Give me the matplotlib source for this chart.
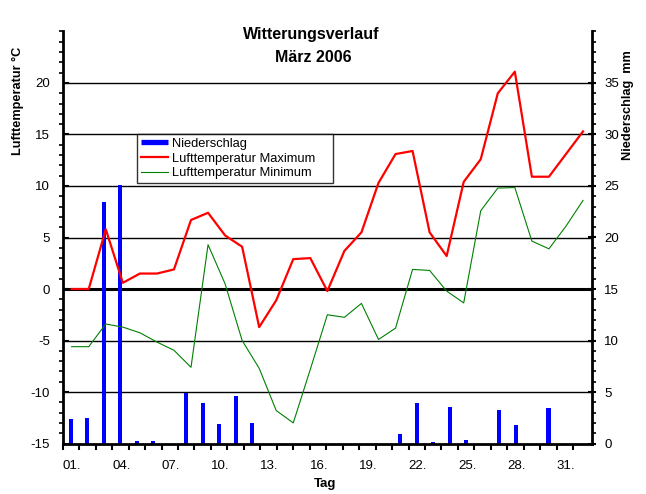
import numpy as np
import matplotlib
matplotlib.use("Agg")
import matplotlib.pyplot as plt
from matplotlib.lines import Line2D

plt.rcParams['font.family'] = ['Liberation Sans', 'DejaVu Sans']
plt.rcParams['axes.unicode_minus'] = False

# daily values, March 2006
days = np.arange(1, 32)
t_max = [0.0, 0.0, 5.8, 0.6, 1.5, 1.5, 1.9, 6.7, 7.4, 5.2, 4.1, -3.7, -1.1, 2.9, 3.0, -0.2,
         3.7, 5.5, 10.3, 13.1, 13.4, 5.5, 3.2, 10.4, 12.6, 19.0, 21.1, 10.9, 10.9, 13.1, 15.3]
t_min = [-5.6, -5.6, -3.4, -3.7, -4.25, -5.15, -5.95, -7.6, 4.3, 0.5, -5.0, -7.7, -11.8, -13.0,
         -7.8, -2.5, -2.75, -1.4, -4.9, -3.8, 1.9, 1.8, -0.2, -1.35, 7.6, 9.8, 9.85, 4.65,
         3.9, 6.1, 8.6]
precip = [2.4, 2.5, 23.4, 25.1, 0.2, 0.2, 0.0, 4.9, 3.9, 1.9, 4.65, 2.0, 0, 0, 0, 0, 0, 0, 0, 0,
          0.9, 3.9, 0.1, 3.5, 0.3, 0.0, 3.3, 1.75, 0.0, 3.4, 0.0]
tick_days = list(range(1, 32, 3))

W, H = 646, 494
fig = plt.figure(figsize=(W / 100, H / 100), dpi=100)
rect = [62.7 / W, 1 - 443.5 / H, 529 / W, 412 / H]

# bottom layer: temperature axis with the grid
ax_t = fig.add_axes(rect)
ax_t.set_ylim(-15, 25)
ax_t.set_xlim(0, 1)
ax_t.set_xticks([])
ax_t.set_yticks(range(-15, 21, 5))
ax_t.set_yticks(range(-15, 26), minor=True)
for v in range(-10, 25, 5):
    ax_t.axhline(v, color='black', lw=2.2 if v == 0 else 1.0, zorder=0)
ax_t.tick_params(axis='y', which='major', direction='in', length=4, width=1.5, pad=9, labelsize=9.5)
ax_t.tick_params(axis='y', which='minor', direction='out', length=3, width=1.2)
for s in ['top', 'right', 'bottom']:
    ax_t.spines[s].set_visible(False)
ax_t.spines['left'].set_linewidth(2)

# middle layer: precipitation bars and the day axis
ax_b = fig.add_axes(rect)
ax_b.patch.set_visible(False)
ax_b.bar(days, precip, width=0.25, color='#0000ff', zorder=2)
ax_b.set_xlim(0.5, 32.62)
ax_b.set_ylim(0, 40)
ax_b.yaxis.tick_right()
ax_b.set_yticks(range(0, 36, 5))
ax_b.set_yticks(range(0, 41), minor=True)
ax_b.set_xticks(np.arange(0.5, 32, 1))
ax_b.set_xticklabels(['%02d.' % (i + 1) if (i + 1) in tick_days else '' for i in range(32)])
plt.setp(ax_b.get_xticklabels(), ha='left')
ax_b.tick_params(axis='x', direction='out', length=4, width=1.5, pad=8, labelsize=9.5)
ax_b.tick_params(axis='y', which='major', direction='inout', length=6, width=1.5, pad=6, labelsize=9.5)
ax_b.tick_params(axis='y', which='minor', direction='out', length=3, width=1.2)
for s in ['top', 'left']:
    ax_b.spines[s].set_visible(False)
ax_b.spines['right'].set_linewidth(2)
ax_b.spines['bottom'].set_linewidth(2)

# top layer: temperature lines
ax_l = fig.add_axes(rect)
ax_l.patch.set_visible(False)
ax_l.axis('off')
ax_l.set_xlim(0.472, 31.51)
ax_l.set_ylim(-15, 25)
ax_l.plot(days, t_max, color='#ff0000', lw=1.6)
ax_l.plot(days, t_min, color='#008000', lw=0.8)

handles = [Line2D([], [], color='#0000ff', lw=3.8, solid_capstyle='butt'),
           Line2D([], [], color='#ff0000', lw=1.6),
           Line2D([], [], color='#008000', lw=0.8)]
labels = ['Niederschlag', 'Lufttemperatur Maximum', 'Lufttemperatur Minimum']
leg = ax_l.legend(handles, labels, loc='upper left', mode='expand',
                  bbox_to_anchor=(136.7 / W, 1 - 185 / H, 196.3 / W, 51 / H),
                  bbox_transform=fig.transFigure, fontsize=9.3, frameon=True, fancybox=False,
                  borderpad=0.3, labelspacing=0.2, handlelength=2.1, handletextpad=0.3,
                  borderaxespad=0)
leg.get_frame().set_edgecolor('black')
leg.get_frame().set_linewidth(1.0)

fig.text(311 / W, 1 - 34 / H, 'Witterungsverlauf', ha='center', va='center', fontsize=11.5, fontweight='bold')
fig.text(313 / W, 1 - 57 / H, 'März 2006', ha='center', va='center', fontsize=11.5, fontweight='bold')
fig.text(18 / W, 1 - 101 / H, 'Lufttemperatur °C', rotation=90, ha='center', va='center', fontsize=9.2, fontweight='bold')
fig.text(628 / W, 1 - 105 / H, 'Niederschlag  mm', rotation=90, ha='center', va='center', fontsize=9.2, fontweight='bold')
fig.text(325 / W, 1 - 484 / H, 'Tag', ha='center', va='center', fontsize=9.5, fontweight='bold')

fig.savefig('out.png', dpi=100)
